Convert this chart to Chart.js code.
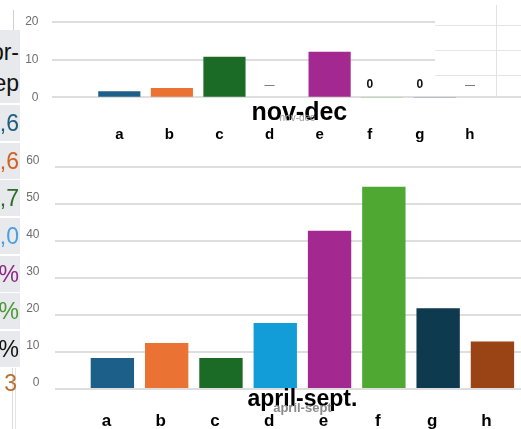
<!DOCTYPE html>
<html>
<head>
<meta charset="utf-8">
<script src="https://cdn.jsdelivr.net/npm/chart.js@4.4.1/dist/chart.umd.min.js"></script>
<style>
  html, body { margin: 0; padding: 0; background: #fff; }
  body { width: 521px; height: 429px; position: relative; overflow: hidden;
         font-family: "Liberation Sans", Arial, sans-serif; }
  .box { position: absolute; left: 0; width: 521px; }
  #novDecBox { top: 0; height: 150px; }
  #aprSeptBox { top: 145px; height: 290px; }
  /* spreadsheet cells peeking in at the upper right */
  #sheet { position: absolute; left: 435px; top: 0; width: 86px; height: 80px; background: #fff; }
  #sheet .h { position: absolute; left: 0; width: 86px; height: 1px; background: #e4e4e4; }
  .v { position: absolute; width: 1px; background: #e2e2e2; }
  /* table column on the left edge */
  .cell { position: absolute; left: 0; width: 20px; background: #e7e9ec; overflow: hidden;
          font-size: 23px; text-align: right; white-space: nowrap; }
  .cell span { position: absolute; right: 1px; }
</style>
</head>
<body>
<div class="box" id="novDecBox"><canvas id="novDec"></canvas></div>
<div class="box" id="aprSeptBox"><canvas id="aprSept"></canvas></div>

<div id="sheet">
  <div class="h" style="top:25px"></div>
  <div class="h" style="top:50px"></div>
  <div class="h" style="top:75px"></div>
</div>
<div class="v" style="left:496px;top:5px;height:92px"></div>

<div class="v" style="left:13px;top:10px;height:20px;background:#d0d0d0"></div>
<div class="v" style="left:12px;top:368px;height:61px;background:#dcdcdc"></div>
<div class="v" style="left:15px;top:368px;height:61px;background:#e4e4e4"></div>

<div class="cell" style="top:30px;height:73px;color:#111">
  <span style="top:7px;line-height:31px">apr-<br>sep</span>
</div>
<div class="cell" style="top:105px;height:36px;color:#1d5e7a"><span style="top:5px">,6</span></div>
<div class="cell" style="top:142.7px;height:36px;color:#d2601f"><span style="top:5px">,6</span></div>
<div class="cell" style="top:180.4px;height:36px;color:#2f6a27"><span style="top:5px">,7</span></div>
<div class="cell" style="top:218px;height:36px;color:#4a9fe0"><span style="top:5px">,0</span></div>
<div class="cell" style="top:255.7px;height:36px;color:#8c2884"><span style="top:5px">%</span></div>
<div class="cell" style="top:293.4px;height:36px;color:#4a9a34"><span style="top:5px">%</span></div>
<div class="cell" style="top:331.1px;height:36px;color:#111"><span style="top:5px">%</span></div>
<div class="cell" style="top:369px;height:30px;background:transparent;color:#b57231"><span style="top:1px;right:3px">3</span></div>

<script>
// ---- data ----
const categories = ['a', 'b', 'c', 'd', 'e', 'f', 'g', 'h'];
const novDecValues = [1.5, 2.4, 10.7, null, 12.0, 0, 0, null];
const aprSeptValues = [8.2, 12.3, 8.2, 17.7, 42.7, 54.6, 21.7, 12.7];
const novDecTicks = [0, 10, 20];
const aprSeptTicks = [0, 10, 20, 30, 40, 50, 60];
const barColors = ['#1c5f88', '#ea7232', '#1b6b27', '#139dd8', '#a3288f', '#4fa831', '#0d3a4f', '#9a4416'];

const FONT = "'Liberation Sans', Arial, sans-serif";
Chart.defaults.font.family = FONT;

const toPoints = vals => vals.map((v, i) => ({ x: i, y: v }));
const categoryTicks = scale => { scale.ticks = categories.map((_, i) => ({ value: i })); };
const categoryLabel = v => categories[v] ?? '';

function valueAxis(ticks, width, padding, labelOffset) {
  return {
    min: ticks[0],
    max: ticks[ticks.length - 1],
    afterBuildTicks: s => { s.ticks = ticks.map(v => ({ value: v })); },
    grid: { color: '#dedede', lineWidth: 2, drawTicks: false },
    border: { display: false },
    ticks: { color: '#6e6e6e', font: { size: 12 }, padding, labelOffset },
    afterFit: s => { s.width = width; }
  };
}

// bold caption with a small grey caption laid over it, under the plot
function captionPlugin(items) {
  return {
    id: 'caption',
    afterDraw(chart) {
      const { ctx, chartArea } = chart;
      const cx = chart.scales.x.getPixelForValue((categories.length - 1) / 2);
      ctx.save();
      ctx.textAlign = 'center';
      ctx.textBaseline = 'alphabetic';
      for (const c of items) {
        ctx.font = c.font;
        ctx.fillStyle = c.color;
        ctx.fillText(c.text, cx + c.dx, chartArea.bottom + c.dy);
      }
      ctx.restore();
    }
  };
}

// "0" for zero values, a dash where there is no value
const missingValuePlugin = {
  id: 'missingValues',
  afterDatasetsDraw(chart) {
    const { ctx } = chart;
    const xs = chart.scales.xCat;
    const y0 = chart.scales.y.getPixelForValue(0);
    ctx.save();
    ctx.textAlign = 'center';
    novDecValues.forEach((v, i) => {
      const x = xs.getPixelForValue(i);
      if (v === null) {
        ctx.font = '10px ' + FONT;
        ctx.fillStyle = '#555';
        ctx.textBaseline = 'middle';
        ctx.fillText('\u2014', x, y0 - 12);
      } else if (v === 0) {
        ctx.font = 'bold 12px ' + FONT;
        ctx.fillStyle = '#111';
        ctx.textBaseline = 'alphabetic';
        ctx.fillText('0', x, y0 - 9);
      }
    });
    ctx.restore();
  }
};

const common = {
  responsive: true,
  maintainAspectRatio: false,
  animation: false,
  events: [],
  plugins: { legend: { display: false }, tooltip: { enabled: false } }
};

// ---- nov-dec ----
new Chart(document.getElementById('novDec'), {
  type: 'bar',
  data: {
    datasets: [{ data: toPoints(novDecValues), backgroundColor: barColors, barThickness: 41.5 }]
  },
  options: {
    ...common,
    layout: { padding: { top: 22, bottom: 0, left: 0, right: 0 } },
    scales: {
      x: { type: 'linear', min: -1.28, max: 7.64, offset: false, display: false },
      xCat: {
        type: 'linear', position: 'bottom', min: -1.345, max: 8.02, offset: false,
        grid: { display: false, drawTicks: false }, border: { display: false },
        afterBuildTicks: categoryTicks,
        afterFit: s => { s.height = 52.7; },
        ticks: { callback: categoryLabel, autoSkip: false, maxRotation: 0,
                 color: '#000', font: { size: 15, weight: 'bold' }, padding: 29 }
      },
      y: valueAxis(novDecTicks, 52, 13.5, 0)
    }
  },
  plugins: [
    missingValuePlugin,
    captionPlugin([
      { text: 'nov-dec', font: 'bold 25px ' + FONT, color: '#000', dx: -4, dy: 22.7 },
      { text: 'nov-dec', font: '10px ' + FONT, color: '#9a9a9a', dx: -6, dy: 23.5 }
    ])
  ]
});

// ---- april-sept ----
new Chart(document.getElementById('aprSept'), {
  type: 'bar',
  data: {
    datasets: [{ data: toPoints(aprSeptValues), backgroundColor: barColors, barThickness: 42.7 }]
  },
  options: {
    ...common,
    layout: { padding: { top: 20.7, bottom: 0, left: 0, right: 0 } },
    scales: {
      x: {
        type: 'linear', min: -1.066, max: 7.526, offset: false,
        grid: { display: false, drawTicks: false }, border: { display: false },
        afterBuildTicks: categoryTicks,
        afterFit: s => { s.height = 46.3; },
        ticks: { callback: categoryLabel, autoSkip: false, maxRotation: 0, labelOffset: -6,
                 color: '#000', font: { size: 17, weight: 'bold' }, padding: 22 }
      },
      y: valueAxis(aprSeptTicks, 54.5, 15, -6.5)
    }
  },
  plugins: [
    captionPlugin([
      { text: 'april-sept.', font: 'bold 23px ' + FONT, color: '#000', dx: 0, dy: 17 },
      { text: 'april-sept', font: 'bold 13px ' + FONT, color: '#8a8a8a', dx: 0, dy: 23 }
    ])
  ]
});
</script>
</body>
</html>
